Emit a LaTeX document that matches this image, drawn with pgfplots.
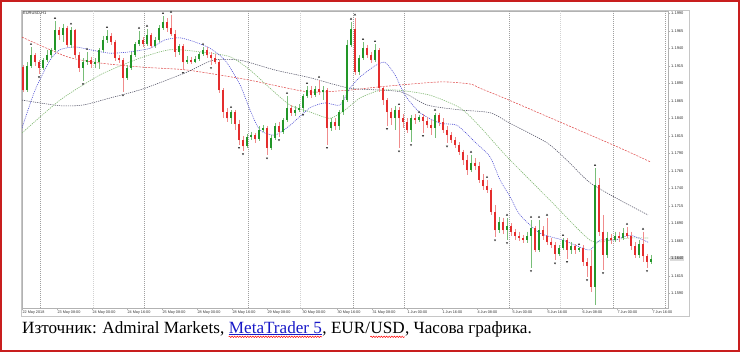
\documentclass[border=0pt]{standalone}
\usepackage{pgfplots}
\pgfplotsset{compat=1.18}
\usepackage{pgfplotstable}
\usepackage{fontspec}
\setmainfont{Liberation Serif}
\newfontfamily\sansf{Liberation Sans}
\usetikzlibrary{decorations.pathmorphing}
\definecolor{bull}{RGB}{34,150,40}
\definecolor{bear}{RGB}{228,45,45}
\definecolor{bullw}{RGB}{120,190,120}
\definecolor{bearw}{RGB}{240,140,140}
\definecolor{pageframe}{RGB}{200,30,30}
\definecolor{linkblue}{RGB}{25,25,200}
\definecolor{maGreen}{RGB}{130,185,115}
\definecolor{maBlue}{RGB}{70,70,210}
\definecolor{maGrey}{RGB}{80,80,100}
\definecolor{maRed}{RGB}{225,80,80}

\pgfplotstableread{
x o c h l
23 1.1913 1.1880 1.1916 1.1878
27 1.1880 1.1915 1.1920 1.1878
31 1.1915 1.1930 1.1942 1.1912
35 1.1930 1.1920 1.1933 1.1915
39 1.1920 1.1912 1.1923 1.1903
43 1.1912 1.1923 1.1926 1.1909
47 1.1923 1.1930 1.1938 1.1920
51 1.1930 1.1938 1.1940 1.1926
55 1.1938 1.1966 1.1979 1.1935
59 1.1966 1.1959 1.1970 1.1952
63 1.1959 1.1969 1.1975 1.1949
67 1.1969 1.1945 1.1972 1.1942
71 1.1945 1.1966 1.1970 1.1940
75 1.1966 1.1930 1.1968 1.1926
79 1.1930 1.1912 1.1935 1.1906
83 1.1912 1.1920 1.1926 1.1893
87 1.1920 1.1923 1.1935 1.1916
91 1.1923 1.1918 1.1928 1.1912
95 1.1918 1.1920 1.1926 1.1912
99 1.1920 1.1938 1.1940 1.1910
103 1.1938 1.1952 1.1958 1.1935
107 1.1952 1.1958 1.1966 1.1948
111 1.1958 1.1949 1.1962 1.1945
115 1.1949 1.1926 1.1952 1.1922
119 1.1926 1.1923 1.1930 1.1919
123 1.1923 1.1898 1.1926 1.1878
127 1.1898 1.1912 1.1916 1.1895
131 1.1912 1.1930 1.1935 1.1909
135 1.1930 1.1946 1.1949 1.1928
139 1.1946 1.1952 1.1965 1.1943
143 1.1952 1.1946 1.1956 1.1942
147 1.1946 1.1959 1.1968 1.1943
151 1.1959 1.1943 1.1962 1.1940
155 1.1943 1.1952 1.1956 1.1940
159 1.1952 1.1969 1.1973 1.1949
163 1.1969 1.1978 1.1986 1.1966
167 1.1978 1.1969 1.1983 1.1963
171 1.1969 1.1960 1.1988 1.1958
175 1.1960 1.1935 1.1966 1.1928
179 1.1935 1.1943 1.1946 1.1930
183 1.1943 1.1920 1.1946 1.1909
187 1.1920 1.1923 1.1929 1.1918
191 1.1923 1.1920 1.1928 1.1918
195 1.1920 1.1925 1.1929 1.1919
199 1.1925 1.1932 1.1935 1.1922
203 1.1932 1.1938 1.1942 1.1929
207 1.1938 1.1930 1.1942 1.1926
211 1.1930 1.1926 1.1935 1.1916
215 1.1926 1.1920 1.1932 1.1918
219 1.1920 1.1880 1.1923 1.1876
223 1.1880 1.1849 1.1883 1.1840
227 1.1849 1.1840 1.1855 1.1835
231 1.1840 1.1849 1.1852 1.1832
235 1.1849 1.1832 1.1852 1.1823
239 1.1832 1.1809 1.1838 1.1802
243 1.1809 1.1800 1.1815 1.1793
247 1.1800 1.1813 1.1818 1.1798
251 1.1813 1.1816 1.1820 1.1809
255 1.1816 1.1810 1.1819 1.1805
259 1.1810 1.1823 1.1829 1.1808
263 1.1823 1.1826 1.1830 1.1820
267 1.1826 1.1798 1.1829 1.1788
271 1.1798 1.1812 1.1816 1.1795
275 1.1812 1.1829 1.1833 1.1809
279 1.1829 1.1820 1.1835 1.1813
283 1.1820 1.1838 1.1840 1.1818
287 1.1838 1.1855 1.1872 1.1835
291 1.1855 1.1848 1.1859 1.1843
295 1.1848 1.1852 1.1858 1.1843
299 1.1852 1.1855 1.1860 1.1849
303 1.1855 1.1872 1.1875 1.1849
307 1.1872 1.1880 1.1886 1.1869
311 1.1880 1.1873 1.1886 1.1869
315 1.1873 1.1882 1.1886 1.1870
319 1.1882 1.1878 1.1895 1.1873
323 1.1878 1.1880 1.1886 1.1866
327 1.1880 1.1826 1.1883 1.1802
331 1.1826 1.1835 1.1840 1.1822
335 1.1835 1.1829 1.1840 1.1823
339 1.1829 1.1849 1.1852 1.1823
343 1.1849 1.1866 1.1873 1.1845
347 1.1866 1.1945 1.1952 1.1863
351 1.1945 1.1968 1.1978 1.1942
355 1.1968 1.1906 1.1983 1.1902
359 1.1906 1.1926 1.1930 1.1902
363 1.1926 1.1940 1.1949 1.1923
367 1.1940 1.1930 1.1945 1.1926
371 1.1930 1.1923 1.1935 1.1919
375 1.1923 1.1938 1.1946 1.1920
379 1.1938 1.1883 1.1940 1.1878
383 1.1883 1.1866 1.1886 1.1859
387 1.1866 1.1849 1.1869 1.1829
391 1.1849 1.1840 1.1855 1.1830
395 1.1840 1.1852 1.1858 1.1823
399 1.1852 1.1840 1.1856 1.1798
403 1.1840 1.1835 1.1846 1.1826
407 1.1835 1.1823 1.1840 1.1819
411 1.1823 1.1840 1.1845 1.1806
415 1.1840 1.1838 1.1846 1.1832
419 1.1838 1.1842 1.1845 1.1835
423 1.1842 1.1836 1.1846 1.1819
427 1.1836 1.1830 1.1842 1.1826
431 1.1830 1.1826 1.1838 1.1816
435 1.1826 1.1845 1.1848 1.1812
439 1.1845 1.1835 1.1848 1.1829
443 1.1835 1.1823 1.1840 1.1819
447 1.1823 1.1816 1.1829 1.1805
451 1.1816 1.1809 1.1820 1.1805
455 1.1809 1.1802 1.1813 1.1798
459 1.1802 1.1792 1.1806 1.1788
463 1.1792 1.1780 1.1795 1.1773
467 1.1780 1.1766 1.1788 1.1759
471 1.1766 1.1776 1.1788 1.1763
475 1.1776 1.1772 1.1783 1.1766
479 1.1772 1.1752 1.1778 1.1748
483 1.1752 1.1743 1.1760 1.1738
487 1.1743 1.1738 1.1752 1.1733
491 1.1738 1.1706 1.1740 1.1702
495 1.1706 1.1680 1.1716 1.1670
499 1.1680 1.1692 1.1699 1.1676
503 1.1692 1.1680 1.1698 1.1675
507 1.1680 1.1686 1.1698 1.1666
511 1.1686 1.1678 1.1690 1.1672
515 1.1678 1.1672 1.1682 1.1666
519 1.1672 1.1669 1.1678 1.1665
523 1.1669 1.1666 1.1673 1.1662
527 1.1666 1.1672 1.1678 1.1662
531 1.1672 1.1683 1.1695 1.1626
535 1.1683 1.1652 1.1686 1.1649
539 1.1652 1.1680 1.1695 1.1649
543 1.1680 1.1672 1.1686 1.1666
547 1.1672 1.1663 1.1698 1.1659
551 1.1663 1.1659 1.1669 1.1655
555 1.1659 1.1646 1.1663 1.1638
559 1.1646 1.1655 1.1659 1.1643
563 1.1655 1.1666 1.1669 1.1652
567 1.1666 1.1652 1.1669 1.1639
571 1.1652 1.1658 1.1663 1.1646
575 1.1658 1.1652 1.1660 1.1646
579 1.1652 1.1655 1.1656 1.1649
583 1.1655 1.1635 1.1659 1.1629
587 1.1635 1.1629 1.1640 1.1613
591 1.1629 1.1599 1.1652 1.1592
595 1.1599 1.1745 1.1769 1.1573
599 1.1745 1.1678 1.1755 1.1672
603 1.1678 1.1645 1.1702 1.1623
607 1.1645 1.1669 1.1678 1.1640
611 1.1669 1.1666 1.1675 1.1660
615 1.1666 1.1672 1.1678 1.1663
619 1.1672 1.1669 1.1678 1.1663
623 1.1669 1.1676 1.1683 1.1666
627 1.1676 1.1672 1.1685 1.1669
631 1.1672 1.1658 1.1678 1.1652
635 1.1658 1.1645 1.1663 1.1640
639 1.1645 1.1660 1.1666 1.1640
643 1.1660 1.1643 1.1678 1.1635
647 1.1643 1.1635 1.1646 1.1626
651 1.1635 1.1639 1.1645 1.1632
}\candles

\begin{document}
\begin{tikzpicture}[x=1bp,y=1bp]
\path[use as bounding box, fill=white] (0,0) rectangle (740,-352);
\draw[pageframe, line width=2bp] (1,-1) rectangle (739,-351);
\draw[gray!45, line width=0.6bp] (21.3,-10.5) rectangle (689.5,-316.5);
\begin{axis}[
  at={(22bp,-308bp)}, anchor=south west,
  width=646bp, height=297bp, scale only axis,
  xmin=22, xmax=668, ymin=1.1569, ymax=1.19933,
  clip mode=individual,
  axis line style={gray!60, line width=0.5bp},
  tick align=outside, major tick length=2bp,
  tick style={gray!60, line width=0.4bp},
  ytick pos=right, yticklabel pos=right,
  xtick pos=bottom,
  ytick={1.1590,1.1615,1.1640,1.1665,1.1690,1.1715,1.1740,1.1765,1.1790,1.1815,1.1840,1.1865,1.1890,1.1915,1.1940,1.1965,1.1990},
  yticklabel style={font=\sansf\fontsize{4}{4}\selectfont, text=gray!40!black, anchor=west, inner sep=1bp,
    /pgf/number format/.cd, fixed, fixed zerofill, precision=4, assume math mode=true},
  xtick={22,57,92,127,162,197,232,267,302,337,372,407,442,477,512,547,582,617,652},
  xticklabels={22 May 2018,23 May 08:00,24 May 00:00,24 May 16:00,25 May 08:00,28 May 00:00,28 May 16:00,29 May 08:00,30 May 00:00,30 May 16:00,31 May 08:00,1 Jun 00:00,1 Jun 16:00,4 Jun 08:00,5 Jun 00:00,5 Jun 16:00,6 Jun 08:00,7 Jun 00:00,7 Jun 16:00},
  xticklabel style={font=\sansf\fontsize{3.8}{4}\selectfont, text=gray!40!black, anchor=north west, inner sep=0.8bp, xshift=-0.5bp},
  candle/.style={draw=none, mark=none, forget plot},
]
% period separators
\pgfplotsinvokeforeach{40,144,248,353,404,509,613,665}{
  \draw[gray!75, line width=0.45bp, dash pattern=on 1bp off 1bp] (axis cs:#1,1.1569) -- (axis cs:#1,1.19933);}
\pgfplotsinvokeforeach{93,300,560}{
  \draw[gray!35, line width=0.45bp, dash pattern=on 1bp off 1bp] (axis cs:#1,1.1569) -- (axis cs:#1,1.19933);}

% moving averages
\addplot[maRed, line width=0.55bp, dash pattern=on 2bp off 1.2bp, smooth, tension=0.4] coordinates {
(22,1.1956) (67,1.1928) (100,1.1919) (143,1.1913) (187,1.1909) (248,1.1895) (307,1.1878) (347,1.1880) (380,1.1885) (440,1.1892) (470,1.1889) (480,1.1883) (509,1.1866) (613,1.1802) (650,1.1778)};
\addplot[maGrey, line width=0.55bp, dash pattern=on 1.2bp off 1bp, smooth, tension=0.4] coordinates {
(22,1.1866) (60,1.1858) (83,1.1859) (110,1.1869) (143,1.1882) (187,1.1906) (213,1.1923) (240,1.1923) (275,1.1909) (310,1.1898) (350,1.1883) (400,1.1878) (427,1.1859) (460,1.1852) (490,1.1848) (510,1.1833) (547,1.1805) (567,1.1780) (590,1.1748) (620,1.1723) (648,1.1702)};
\addplot[maGreen, line width=0.6bp, dash pattern=on 1.2bp off 1bp, smooth, tension=0.4] coordinates {
(22,1.1819) (60,1.1866) (100,1.1902) (140,1.1926) (170,1.1938) (200,1.1935) (230,1.1928) (250,1.1909) (270,1.1883) (290,1.1859) (310,1.1849) (330,1.1840) (345,1.1852) (360,1.1869) (380,1.1880) (400,1.1880) (430,1.1873) (460,1.1855) (480,1.1828) (507,1.1785) (550,1.1723) (590,1.1666) (610,1.1666) (630,1.1669) (648,1.1669)};
\addplot[maBlue, line width=0.55bp, dash pattern=on 1bp off 1bp, smooth, tension=0.4] coordinates {
(22,1.1826) (35,1.1880) (50,1.1923) (60,1.1938) (75,1.1942) (90,1.1938) (110,1.1933) (130,1.1935) (150,1.1940) (165,1.1952) (180,1.1955) (195,1.1949) (210,1.1940) (225,1.1923) (240,1.1888) (250,1.1852) (260,1.1823) (275,1.1816) (290,1.1830) (310,1.1855) (325,1.1862) (340,1.1859) (350,1.1883) (360,1.1899) (375,1.1915) (385,1.1920) (395,1.1902) (405,1.1873) (420,1.1848) (440,1.1833) (457,1.1830) (475,1.1806) (490,1.1785) (500,1.1752) (510,1.1728) (520,1.1702) (540,1.1676) (563,1.1666) (580,1.1656) (590,1.1652) (600,1.1666) (615,1.1666) (630,1.1673) (648,1.1663)};

% wicks
\addplot[candle, restrict expr to domain={\thisrow{c}-\thisrow{o}}{0:1},
  error bars/.cd, y dir=minus, y explicit, error mark=none, error bar style={draw=bullw, line width=0.6bp}]
  table[x=x, y=h, y error expr=\thisrow{h}-\thisrow{l}] {\candles};
\addplot[candle, restrict expr to domain={\thisrow{c}-\thisrow{o}}{-1:0},
  error bars/.cd, y dir=minus, y explicit, error mark=none, error bar style={draw=bearw, line width=0.6bp}]
  table[x=x, y=h, y error expr=\thisrow{h}-\thisrow{l}] {\candles};
% bodies
\addplot[candle, restrict expr to domain={\thisrow{c}-\thisrow{o}}{0:1},
  error bars/.cd, y dir=minus, y explicit, error mark=none, error bar style={draw=bull, line width=2.4bp}]
  table[x=x, y=c, y error expr=\thisrow{c}-\thisrow{o}] {\candles};
\addplot[candle, restrict expr to domain={\thisrow{c}-\thisrow{o}}{-1:0},
  error bars/.cd, y dir=plus, y explicit, error mark=none, error bar style={draw=bear, line width=2.4bp}]
  table[x=x, y=c, y error expr=\thisrow{o}-\thisrow{c}] {\candles};

% fractal marks
\addplot[only marks, mark=triangle*, mark size=0.8bp, color=gray!45!black] coordinates {
(31,1.1946) (55,1.1983) (71,1.1975) (87,1.1939) (107,1.1970) (139,1.1969) (147,1.1972) (163,1.1990) (171,1.1992) (203,1.1946) (231,1.1856) (287,1.1876) (307,1.1890) (319,1.1899) (351,1.1982) (355,1.1988) (363,1.1953) (375,1.1950) (399,1.1860) (419,1.1849) (435,1.1852) (471,1.1792) (487,1.1756) (507,1.1702) (531,1.1699) (539,1.1699) (547,1.1702) (563,1.1673) (579,1.1660) (595,1.1773) (627,1.1689) (643,1.1682)};
\addplot[only marks, mark=triangle*, mark size=0.8bp, mark options={rotate=180}, color=gray!45!black] coordinates {
(39,1.1899) (83,1.1889) (123,1.1873) (183,1.1905) (211,1.1912) (239,1.1798) (243,1.1789) (267,1.1783) (279,1.1809) (303,1.1845) (327,1.1798) (387,1.1825) (399,1.1793) (411,1.1802) (423,1.1815) (447,1.1800) (495,1.1666) (507,1.1662) (531,1.1622) (555,1.1633) (567,1.1635) (587,1.1609) (603,1.1619) (647,1.1622)};

\node[anchor=west, inner sep=1bp, xshift=2bp, fill=gray!28, font=\sansf\fontsize{4}{4}\selectfont, text=gray!20!black] at (axis cs:668,1.1640) {1.1640};
\node[anchor=north west, inner sep=1bp, font=\sansf\fontsize{4}{4}\selectfont, text=gray!30!black] at (rel axis cs:0,1) {EURUSD,H1};
\end{axis}
% caption
\begin{scope}[every node/.style={inner sep=0pt, font=\fontsize{17.2}{17}\selectfont}]
\node[anchor=base west] (n1) at (22,-333) {Източник: Admiral Markets,};
\node[anchor=base west, text=linkblue, xshift=4.2bp] (n2) at (n1.base east) {MetaTrader 5};
\node[anchor=base west] (n3) at (n2.base east) {, EUR/};
\node[anchor=base west] (n4) at (n3.base east) {USD};
\node[anchor=base west] (n5) at (n4.base east) {, Часова графика.};
\end{scope}
\draw[linkblue, line width=0.7bp] ([yshift=-1.8bp]n2.base west) -- ([yshift=-1.8bp]n2.base east);
\draw[red, line width=0.5bp, decorate, decoration={snake, amplitude=0.7bp, segment length=2.6bp}] ([yshift=-3.8bp]n2.base west) -- ([yshift=-3.8bp]n2.base east);
\draw[red, line width=0.5bp, decorate, decoration={snake, amplitude=0.7bp, segment length=2.6bp}] ([yshift=-3.8bp]n4.base west) -- ([yshift=-3.8bp]n4.base east);
\end{tikzpicture}
\end{document}
